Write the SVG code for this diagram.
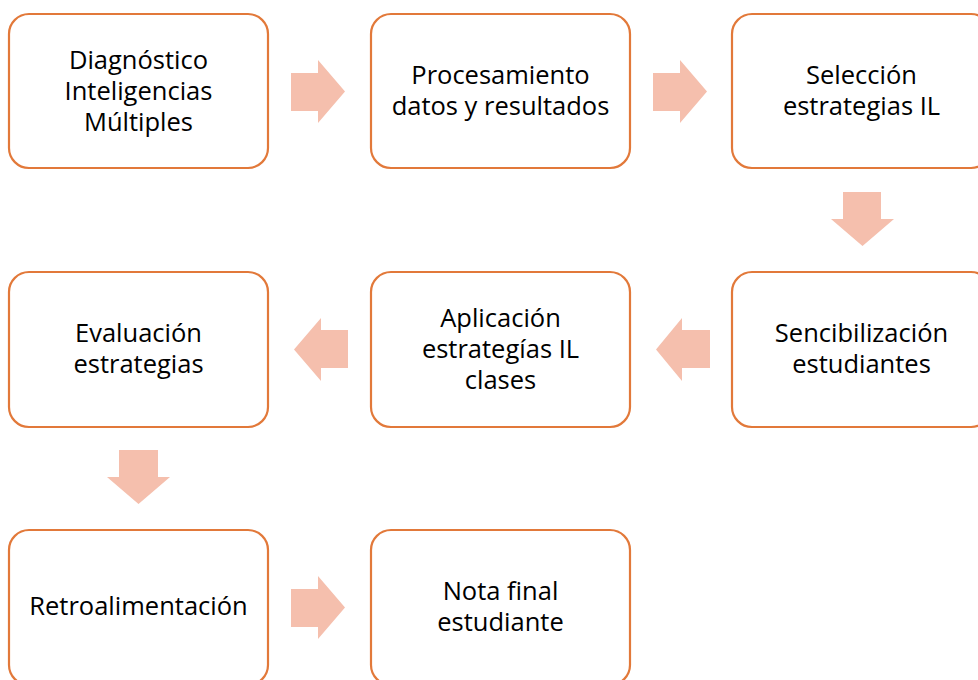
<svg xmlns="http://www.w3.org/2000/svg" width="978" height="680" viewBox="0 0 978 680">
<style>
.box{fill:#fff;stroke:#E2793A;stroke-width:2.2}
.arr{fill:#F5BFAD}
text{font-family:"Open Sans","Liberation Sans",sans-serif;font-size:25.5px;fill:#000;text-anchor:middle}
</style>
<rect width="978" height="680" fill="#fff"/>
<g id="connectors">
<polygon class="arr" points="291,73 318,73 318,60 345,91.5 318,123 318,111 291,111"/>
<polygon class="arr" points="653,73 680,73 680,60 707,91.5 680,123 680,111 653,111"/>
<polygon class="arr" points="843,192 881,192 881,219 894,219 862.5,246 831,219 843,219"/>
<polygon class="arr" points="710,330 682,330 682,318 656,349.5 682,381 682,368 710,368"/>
<polygon class="arr" points="348,330 321,330 321,318 294,349.5 321,381 321,368 348,368"/>
<polygon class="arr" points="119,450 158,450 158,477 170,477 138.5,504 107,477 119,477"/>
<polygon class="arr" points="291,589 318,589 318,576 345,607.5 318,639 318,627 291,627"/>
</g>
<g id="n1"><rect class="box" x="9" y="14" width="259" height="154" rx="20"/>
<text x="138.5" y="69">Diagnóstico</text><text x="138.5" y="100">Inteligencias</text><text x="138.5" y="131">Múltiples</text></g>
<g id="n2"><rect class="box" x="371" y="14" width="259" height="154" rx="20"/>
<text x="500.5" y="84">Procesamiento</text><text x="500.5" y="115">datos y resultados</text></g>
<g id="n3"><rect class="box" x="732" y="14" width="259" height="154" rx="20"/>
<text x="861.5" y="84">Selección</text><text x="861.5" y="115">estrategias IL</text></g>
<g id="n4"><rect class="box" x="732" y="272" width="259" height="155" rx="20"/>
<text x="861.5" y="342">Sencibilización</text><text x="861.5" y="373">estudiantes</text></g>
<g id="n5"><rect class="box" x="371" y="272" width="259" height="155" rx="20"/>
<text x="500.5" y="327">Aplicación</text><text x="500.5" y="358">estrategías IL</text><text x="500.5" y="389">clases</text></g>
<g id="n6"><rect class="box" x="9" y="272" width="259" height="155" rx="20"/>
<text x="138.5" y="342">Evaluación</text><text x="138.5" y="373">estrategias</text></g>
<g id="n7"><rect class="box" x="9" y="530" width="259" height="155" rx="20"/>
<text x="138.5" y="615">Retroalimentación</text></g>
<g id="n8"><rect class="box" x="371" y="530" width="259" height="155" rx="20"/>
<text x="500.5" y="600">Nota final</text><text x="500.5" y="631">estudiante</text></g>
</svg>
